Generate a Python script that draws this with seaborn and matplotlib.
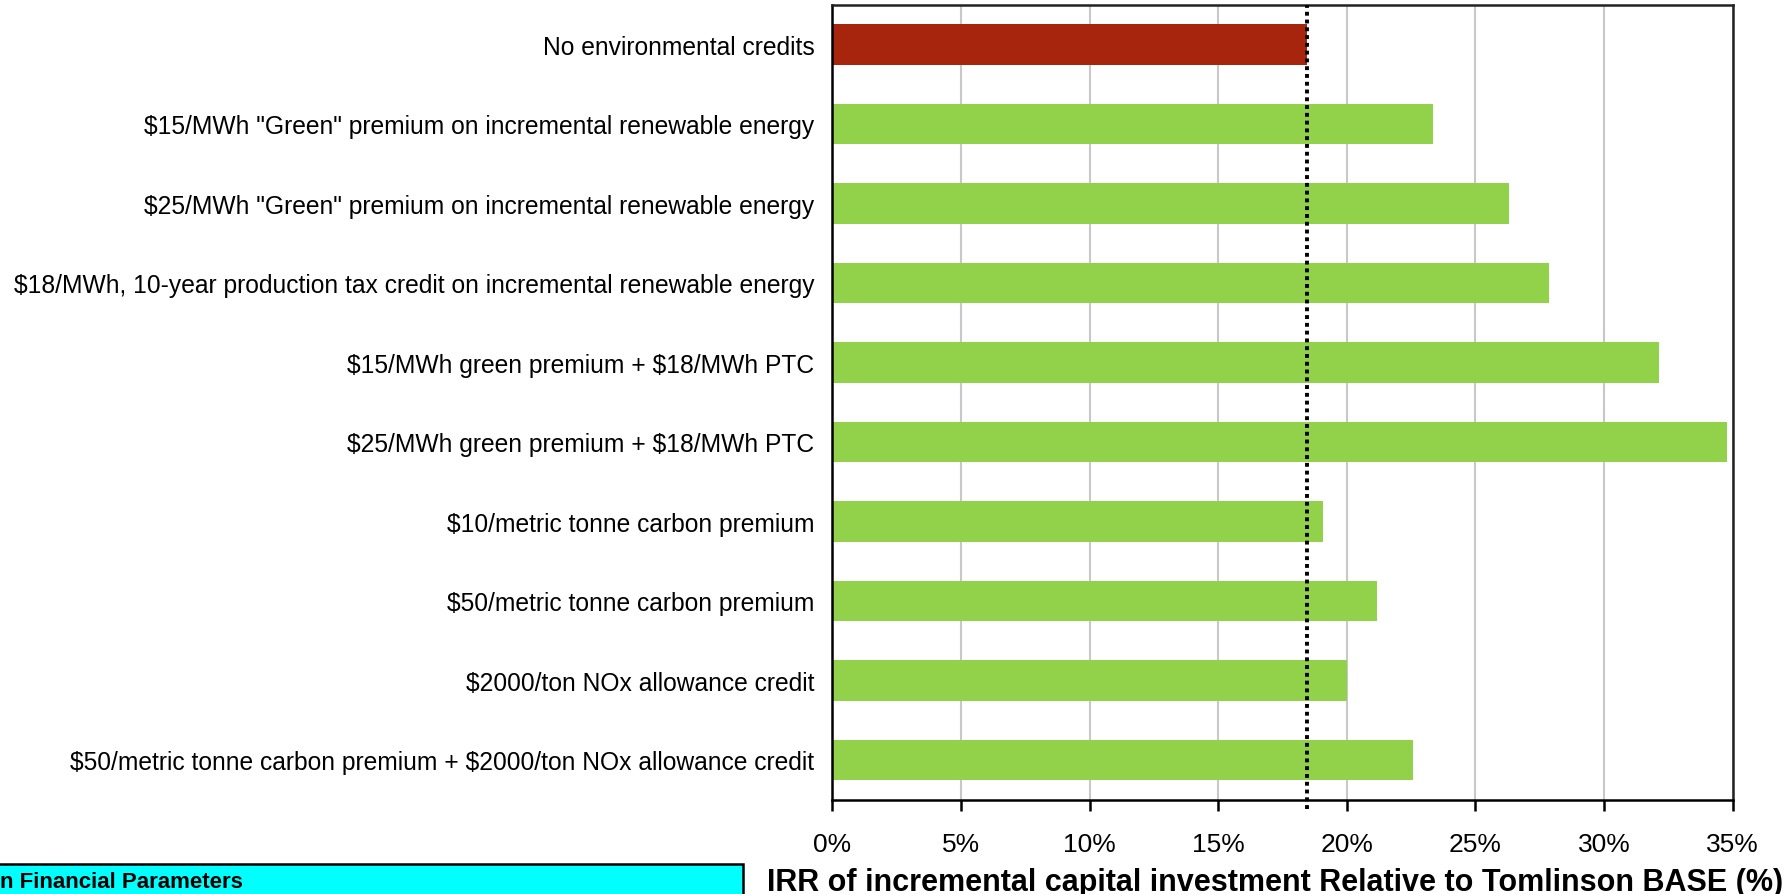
import matplotlib
matplotlib.use("Agg")
import matplotlib.pyplot as plt
import seaborn as sns
import pandas as pd
from matplotlib.ticker import PercentFormatter, MultipleLocator
from matplotlib.patches import Rectangle

categories = [
    "No environmental credits",
    "$15/MWh \"Green\" premium on incremental renewable energy",
    "$25/MWh \"Green\" premium on incremental renewable energy",
    "$18/MWh, 10-year production tax credit on incremental renewable energy",
    "$15/MWh green premium + $18/MWh PTC",
    "$25/MWh green premium + $18/MWh PTC",
    "$10/metric tonne carbon premium",
    "$50/metric tonne carbon premium",
    "$2000/ton NOx allowance credit",
    "$50/metric tonne carbon premium + $2000/ton NOx allowance credit",
]
irr_values = [0.1844, 0.2335, 0.2630, 0.2785, 0.3214, 0.3477, 0.1906, 0.2117, 0.2000, 0.2257]
base_irr = 0.1844
bar_colors = ["#A8250D"] + ["#92D14A"] * 9
x_label = "IRR of incremental capital investment Relative to Tomlinson BASE (%)"
box_text = "n Financial Parameters"

sns.set_theme(style="white")
plt.rcParams['font.family'] = ['Liberation Sans', 'DejaVu Sans']
plt.rcParams['text.parse_math'] = False

fig = plt.figure(figsize=(17.91, 8.95), dpi=100)
ax = fig.add_axes([832.4 / 1791, 1 - 800.7 / 895, (1732.7 - 832.4) / 1791, (800.7 - 5.7) / 895])

df = pd.DataFrame({"cat": categories, "irr": irr_values})
sns.barplot(data=df, y="cat", x="irr", hue="cat", palette=bar_colors, legend=False,
            orient="h", width=0.51, ax=ax, saturation=1, edgecolor="none", zorder=2)

ax.set_xlim(0, 0.35)
ax.set_ylim(len(categories) - 0.5, -0.5)
ax.xaxis.set_major_locator(MultipleLocator(0.05))
ax.xaxis.set_major_formatter(PercentFormatter(1.0, decimals=0))
ax.grid(axis="x", color="#C8C8C8", linewidth=1.5, zorder=0)
ax.grid(axis="y", visible=False)
ax.set_axisbelow(True)

ax.axvline(base_irr, color="black", linestyle=(0, (1, 1)), linewidth=2.8, zorder=5,
           ymin=-0.012, ymax=1, clip_on=False)

for side in ["left", "bottom", "top", "right"]:
    ax.spines[side].set_color("black")
    ax.spines[side].set_linewidth(1.8)
ax.spines["top"].set_color("#222222")
ax.spines["right"].set_color("#222222")

ax.tick_params(axis="x", which="major", bottom=True, length=8, width=1.8,
               color="black", direction="out", labelsize=19, pad=15)
ax.tick_params(axis="y", left=False, labelsize=17.7, pad=7)
for lbl in ax.get_yticklabels() + ax.get_xticklabels():
    lbl.set_color("black")
ax.tick_params(labelcolor="black")
ax.set_ylabel("")
ax.set_xlabel(x_label, fontsize=22, fontweight="bold", va="center", color="black")
ax.xaxis.set_label_coords(0.4917, -(883 - 800.7) / 795)

fig.patches.append(Rectangle((-5 / 1791, -5 / 895), 748 / 1791, (895 - 865 + 5) / 895,
                             transform=fig.transFigure, facecolor="#00FFFF",
                             edgecolor="black", linewidth=1.8, clip_on=False))
fig.text(0.0, 1 - 883 / 895, box_text, fontsize=16, fontweight="bold",
         ha="left", va="center", color="black")

fig.savefig("out.png", dpi=100)
